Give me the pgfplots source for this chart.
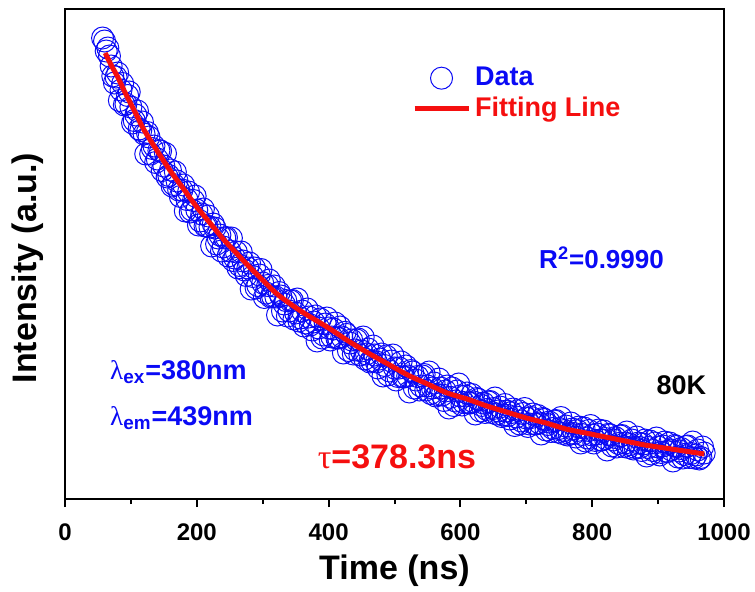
\documentclass[border=0pt]{standalone}
\usepackage{pgfplots}
\pgfplotsset{compat=1.18}
\usepackage{fontspec}
\setmainfont{Liberation Sans}
\newfontfamily\symfont{Liberation Serif}
\definecolor{dblue}{RGB}{10,10,245}
\definecolor{dred}{RGB}{245,15,15}
\newcommand{\fs}[1]{\fontsize{#1}{1.2\dimexpr#1\relax}\selectfont}
\pgfplotstableread{
t v
57 461
60 458
62.5 448
65 451
67.5 443
70 433
72.5 423
75 416
77.5 422
80 426
82.5 398.5
85 409
87.5 415.5
90 394
92.5 395
95 403.5
97.5 407
100 392
102.5 376
105 378.5
107.5 384
110 388
112.5 370
115 368.5
117.5 377
120 365
122.5 345
125 366.5
127.5 362
130 345
132.5 350.5
135 353
137.5 336.5
140 340
142.5 348.5
145 348
147.5 328.5
150 333
152.5 345.5
155 322
157.5 323.5
160 329
162.5 313
165 314.5
167.5 327
170 318
172.5 309
175 302.5
177.5 309
180 314
182.5 288
185 299.5
187.5 307
190 287
192.5 289
195 298.5
197.5 303
200 289
202.5 274
205 278
207.5 285
210 290
212.5 273
215 273
217.5 283
220 272
222.5 253
225 275
227.5 271
230 255
232.5 261
235 264
237.5 248
240 252
242.5 261
245 261.5
247.5 243
250 248
252.5 261
255 238.5
257.5 241
260 247
262.5 231
265 233.5
267.5 247
270 238
272.5 229
275 223.5
277.5 231
280 236
282.5 210
285 222.5
287.5 231
290 211
292.5 213.5
295 224
297.5 229.5
300 216
302.5 201.5
305 206
307.5 213.5
310 219
312.5 202
315 202.5
317.5 213
320 202
322.5 184
325 206.5
327.5 203
330 188
332.5 195
335 198.5
337.5 183
340 188
342.5 198
345 198.5
347.5 180
350 186
352.5 200
355 178
357.5 181
360 188
362.5 173
365 176
367.5 190
370 182
372.5 174
375 169
377.5 177
380 183
382.5 158
385 171
387.5 180
390 161
392.5 164
395 175
397.5 181
400 171
402.5 159
405 162
407.5 170
410 176
412.5 161
415 161
417.5 172
420 162
422.5 146
425 166.7
427.5 164.6
430 148.5
432.5 156
435 159
437.5 145
440 149
442.5 159
445 160
447.5 144
450 148
452.5 162
455 140
457.5 145
460 150
462.5 137
465 138
467.5 153
470 144
472.5 137
475 131
477.5 140
480 145
482.5 123
485 133.5
487.5 143
490 124
492.5 128
495 138
497.5 144
500 131
502.5 119
505 122.5
507.5 131
510 137
512.5 122
515 122
517.5 133
520 123
522.5 107
525 128.5
527.5 127
530 111
532.5 119
535 122.5
537.5 109
540 113
542.5 123
545 124.5
547.5 109
550 113
552.5 127
555 105.5
557.5 111
560 116
562.5 103
565 104.5
567.5 120
570 111
572.5 104
575 98.5
577.5 108
580 113
582.5 91
585 101.7
587.5 111
590 93.5
592.5 98
595 108
597.5 115
600 103
602.5 94
605 96.5
607.5 103
610 106
612.5 96
615 96
617.5 104.5
620 97
622.5 85
625 100.5
627.5 99.5
630 88
632.5 93.5
635 96
637.5 86.5
640 89.5
642.5 97
645 97.5
647.5 86.5
650 90.5
652.5 101
655 85
657.5 88
660 92
662.5 82.5
665 84
667.5 94.5
670 88
672.5 83.5
675 80
677.5 86.5
680 90
682.5 73.5
685 82
687.5 88.5
690 75
692.5 78
695 85.5
697.5 90.5
700 81
702.5 72.5
705 75
707.5 81.5
710 85
712.5 75
715 75
717.5 83.5
720 76
722.5 65
725 80.5
727.5 79.5
730 69
732.5 74.5
735 77
737.5 67.5
740 70.5
742.5 78
745 78.5
747.5 67
750 70.5
752.5 81.5
755 65.5
757.5 68.5
760 73
762.5 64
765 65.5
767.5 76
770 70
772.5 65.5
775 62
777.5 68.5
780 72
782.5 56
785 64.5
787.5 71
790 58
792.5 61
795 68.5
797.5 73.5
800 64
802.5 56
805 58.5
807.5 65
810 69
812.5 59
815 59
817.5 68
820 60.5
822.5 49
825 64.7
827.5 64
830 53
832.5 59
835 61.5
837.5 52
840 55.5
842.5 63
845 63.5
847.5 52.5
850 56
852.5 67
855 51.5
857.5 54.5
860 59
862.5 50
865 51.5
867.5 62
870 56
872.5 51.5
875 48.5
877.5 55
880 59
882.5 43
885 51.5
887.5 58
890 45
892.5 48.5
895 56
897.5 61
900 52
902.5 44
905 46.5
907.5 53
910 57
912.5 47.5
915 47.5
917.5 56
920 49
922.5 38
925 53.5
927.5 52.5
930 42
932.5 48
935 50.5
937.5 41
940 44.5
942.5 52.5
945 53
947.5 41.5
950 45.5
952.5 57
955 41
957.5 44
960 49
962.5 40
965 41.5
967.5 52
970 46
}\datatable
\pgfplotstableread{
t v
61 446
70 434
80 422
90 408
100 395
110 382
120 369
140 348
160 328
180 310
200 292
220 276
240 260
260 246
280 232
300 219
320 206
340 196
360 187
380 179
400 171
430 158
460 146
490 135
520 124
550 115
580 106
610 100
640 93
670 87
700 81
730 76
760 70
790 66
820 62
850 58
880 54
910 51
940 48
970 45
}\fittable
\begin{document}
\begin{tikzpicture}
\useasboundingbox (0,0) rectangle (377.5bp,296bp);
\begin{axis}[
  at={(32.5bp,46.5bp)}, anchor=south west,
  scale only axis, width=329.5bp, height=245bp,
  xmin=0, xmax=1000, ymin=0, ymax=490,
  clip marker paths=true,
  xtick={0,200,...,1000}, minor xtick={100,300,...,900},
  ytick=\empty,
  xtick pos=bottom, tick align=outside,
  major tick length=4bp, minor tick length=2.5bp,
  axis line style={line width=1bp},
  tick style={line width=1bp, black},
  /pgf/number format/assume math mode=true,
  /pgf/number format/1000 sep={},
  xticklabel style={font=\fs{12bp}\bfseries, yshift=-5bp},
  xlabel={Time (ns)}, ylabel={Intensity (a.u.)},
  label style={font=\fs{17bp}\bfseries},
  xlabel style={at={(axis description cs:0.5,-0.147)}, anchor=center},
  ylabel style={at={(axis description cs:-0.056,0.471)}, anchor=center},
  legend style={draw=none, fill=none, at={(axis cs:526,436)}, anchor=north west,
    font=\fs{13.5bp}\bfseries, inner sep=0pt, row sep=0bp, cells={anchor=west}},
  legend image code/.code={\draw[mark repeat=2,mark phase=2,#1] plot coordinates {(0bp,0bp) (13.5bp,0bp) (27bp,0bp)};},
]
\addplot[only marks, mark=o, color=dblue, mark size=5.5bp, mark options={line width=0.5bp}] table {\datatable};
\addlegendentry{\textcolor{dblue}{Data}}
\addplot[color=dred, line width=2.5bp, smooth] table {\fittable};
\addlegendentry{\textcolor{dred}{Fitting Line}}
\node[anchor=west, inner sep=0pt, font=\fs{13bp}\bfseries, text=dblue] at (axis cs:719,241) {R\textsuperscript{2}=0.9990};
\node[anchor=west, inner sep=0pt, font=\fs{13.5bp}\bfseries, text=dblue] at (axis cs:68,127) {{\symfont\mdseries λ}\textsubscript{ex}=380nm};
\node[anchor=west, inner sep=0pt, font=\fs{13.5bp}\bfseries, text=dblue] at (axis cs:68,81) {{\symfont\mdseries λ}\textsubscript{em}=439nm};
\node[anchor=west, inner sep=0pt, font=\fs{17bp}\bfseries, text=dred] at (axis cs:383,42) {{\symfont\mdseries τ}=378.3ns};
\node[anchor=west, inner sep=0pt, font=\fs{13.5bp}\bfseries, text=black] at (axis cs:897,114) {80K};
\end{axis}
\end{tikzpicture}
\end{document}
